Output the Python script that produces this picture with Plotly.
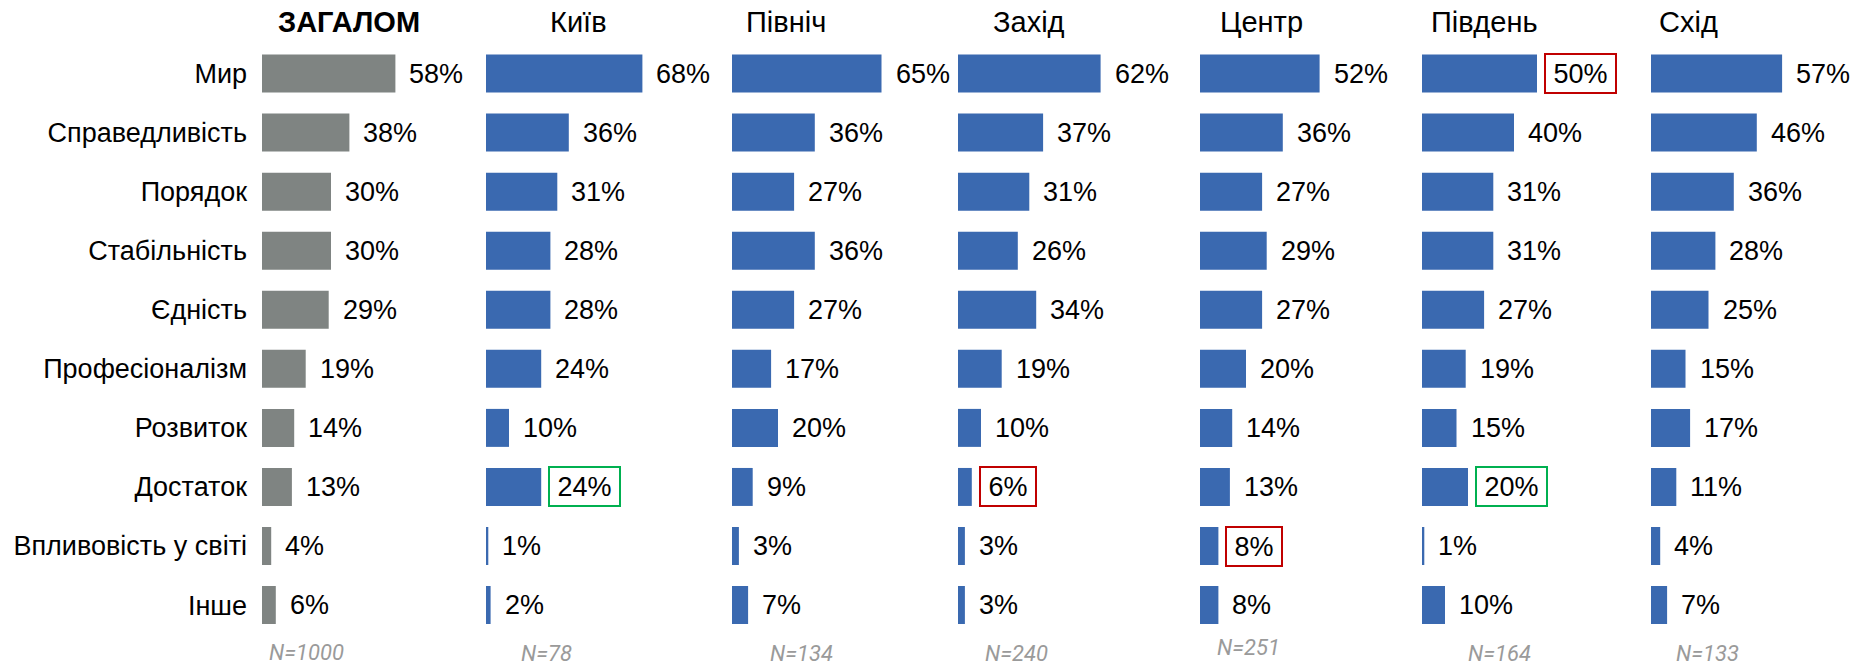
import plotly.graph_objects as go

# ---------------- data ----------------
categories = ["Мир", "Справедливість", "Порядок", "Стабільність", "Єдність",
              "Професіоналізм", "Розвиток", "Достаток", "Впливовість у світі", "Інше"]
panel_titles = ["ЗАГАЛОМ", "Київ", "Північ", "Захід", "Центр", "Південь", "Схід"]
sample_sizes = ["N=1000", "N=78", "N=134", "N=240", "N=251", "N=164", "N=133"]

total    = [58, 38, 30, 30, 29, 19, 14, 13, 4, 6]
kyiv     = [68, 36, 31, 28, 28, 24, 10, 24, 1, 2]
north    = [65, 36, 27, 36, 27, 17, 20, 9, 3, 7]
west     = [62, 37, 31, 26, 34, 19, 10, 6, 3, 3]
center   = [52, 36, 27, 29, 27, 20, 14, 13, 8, 8]
south    = [50, 40, 31, 31, 27, 19, 15, 20, 1, 10]
east     = [57, 46, 36, 28, 25, 15, 17, 11, 4, 7]
series = [total, kyiv, north, west, center, south, east]

# highlighted labels: (panel index, category, colour kind)
highlights = [(1, "Достаток", "green"), (3, "Достаток", "red"),
              (4, "Впливовість у світі", "red"), (5, "Мир", "red"),
              (5, "Достаток", "green")]

# ---------------- layout / style ----------------
W, H = 1860, 668
FONT = "Liberation Sans, Arial, sans-serif"
NFONT = "Roboto"
GRAY = "#7f8482"
BLUE = "#3a69b0"
BOX = {"red": "#c00000", "green": "#00b050"}
PX_PER_PCT = 2.3
panel_left_px = [262, 486, 732, 958, 1200, 1422, 1651]
panel_w_px = 200
title_cx_px = [349, 578, 786, 1029, 1261, 1484, 1688]
n_cx_px = [306, 546, 801, 1016, 1248, 1499, 1707]
n_cy_px = [652, 653, 653, 653, 647, 653, 653]
title_cy_px = 22
ydom = [1 - 634.6 / H, 1 - 44 / H]

fig = go.Figure()
annotations = []
hl = {(p, c): k for p, c, k in highlights}

for i, vals in enumerate(series):
    xa = "x" if i == 0 else f"x{i+1}"
    fig.add_trace(go.Bar(
        x=vals, y=categories, orientation="h",
        xaxis=xa, yaxis="y",
        marker=dict(color=GRAY if i == 0 else BLUE, line=dict(width=0)),
        width=0.643, showlegend=False, hoverinfo="skip",
    ))
    key = "xaxis" if i == 0 else f"xaxis{i+1}"
    x0 = panel_left_px[i] / W
    x1 = (panel_left_px[i] + panel_w_px) / W
    fig.layout[key] = dict(domain=[x0, x1], range=[0, panel_w_px / PX_PER_PCT],
                           visible=False, anchor="y", fixedrange=True)
    for v, c in zip(vals, categories):
        kind = hl.get((i, c))
        if kind:
            two = v >= 10
            annotations.append(dict(
                x=v, y=c, xref=xa, yref="y", text=f"{v}%", showarrow=False,
                xanchor="left", xshift=7, width=65 if two else 50, height=33,
                align="center", bordercolor=BOX[kind], borderwidth=2, borderpad=2,
                font=dict(family=FONT, size=27, color="#000"),
            ))
        else:
            annotations.append(dict(
                x=v, y=c, xref=xa, yref="y", text=f"{v}%", showarrow=False,
                xanchor="left", xshift=12,
                font=dict(family=FONT, size=27, color="#000"),
            ))
    annotations.append(dict(
        x=title_cx_px[i] / W, y=1 - title_cy_px / H, xref="paper", yref="paper",
        text=f"<b>{panel_titles[i]}</b>" if i == 0 else panel_titles[i],
        showarrow=False, xanchor="center", yanchor="middle",
        font=dict(family=FONT, size=29, color="#000"),
    ))
    annotations.append(dict(
        x=n_cx_px[i] / W, y=1 - n_cy_px[i] / H, xref="paper", yref="paper",
        text=f"<i>{sample_sizes[i]}</i>", showarrow=False,
        xanchor="center", yanchor="middle",
        font=dict(family=NFONT, size=22, color="#9a9a9a"),
    ))

fig.update_layout(
    width=W, height=H,
    margin=dict(l=0, r=0, t=0, b=0),
    paper_bgcolor="white", plot_bgcolor="white",
    barmode="overlay",
    yaxis=dict(domain=ydom, type="category", categoryorder="array",
               categoryarray=categories, range=[9.5, -0.5],
               showgrid=False, zeroline=False, showline=False, ticks="",
               ticklabelstandoff=14, anchor="x",
               tickfont=dict(family=FONT, size=27, color="#000"), fixedrange=True),
    annotations=annotations,
    font=dict(family=FONT),
)

fig.write_html(
    "out.html",
    config={"displayModeBar": False},
    post_script="document.body.style.margin='0px';document.body.style.overflow='hidden';",
)
